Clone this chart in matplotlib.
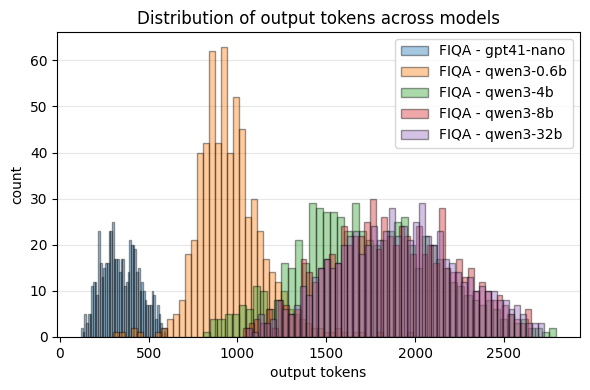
import numpy as np
import matplotlib
matplotlib.use("Agg")
import matplotlib.pyplot as plt

## Histogram counts (50 bins per model) ##
models = ["gpt41-nano", "qwen3-0.6b", "qwen3-4b", "qwen3-8b", "qwen3-32b"]

# token range covered by each model's bins
gpt41_range = (119, 604)
q06_range = (300, 1986)
q4_range = (808, 2795)
q8_range = (1031, 2654)
q32_range = (1048, 2728)

gpt41_counts = [2, 1, 5, 3, 5, 5, 11, 12, 12, 9,
                23, 16, 13, 15, 16, 16, 23, 23, 25, 17,
                17, 17, 14, 17, 17, 11, 12, 14, 21, 20,
                20, 19, 14, 15, 10, 12, 10, 8, 7, 7,
                7, 10, 9, 4, 7, 5, 3, 2, 1, 2]

q06_counts = [1, 1, 0, 2, 1, 0, 0, 1, 2, 4,
              5, 8, 18, 21, 40, 42, 62, 42, 63, 40,
              52, 45, 26, 30, 23, 17, 14, 12, 10, 6,
              5, 4, 3, 2, 2, 1, 1, 2, 1, 0,
              1, 1, 0, 0, 1, 0, 0, 0, 0, 1]

q4_counts = [1, 4, 4, 5, 5, 7, 6, 11, 10, 6,
             8, 16, 15, 21, 16, 29, 28, 27, 27, 26,
             23, 29, 23, 21, 20, 21, 23, 25, 26, 20,
             15, 22, 20, 17, 15, 12, 11, 9, 8, 7,
             8, 6, 4, 5, 3, 4, 2, 2, 1, 2]

q8_counts = [2, 3, 4, 3, 6, 2, 8, 7, 5, 6,
             17, 14, 12, 15, 17, 18, 16, 24, 20, 22,
             22, 25, 30, 19, 26, 22, 20, 24, 22, 18,
             24, 18, 20, 16, 28, 15, 14, 17, 13, 15,
             10, 12, 10, 8, 9, 7, 5, 4, 3, 6]

q32_counts = [2, 1, 5, 3, 4, 8, 6, 5, 7, 11,
              9, 13, 15, 17, 15, 16, 20, 22, 23, 18,
              20, 24, 21, 23, 28, 22, 24, 21, 25, 29,
              22, 20, 23, 17, 16, 14, 12, 13, 10, 11,
              10, 10, 8, 8, 6, 7, 5, 3, 3, 3]

ranges = [gpt41_range, q06_range, q4_range, q8_range, q32_range]
counts = [gpt41_counts, q06_counts, q4_counts, q8_counts, q32_counts]

## Plot! ##
fig, ax = plt.subplots(figsize=(5.9, 3.9), dpi=100)

for name, rng, cnt in zip(models, ranges, counts):
    edges = np.linspace(rng[0], rng[1], len(cnt) + 1)
    centers = (edges[:-1] + edges[1:]) / 2
    ax.hist(centers, bins=edges, weights=cnt, alpha=0.4,
            edgecolor="black", label="FIQA - " + name)

ax.set_title("Distribution of output tokens across models")
ax.set_xlabel("output tokens")
ax.set_ylabel("count")
ax.grid(axis="y", alpha=0.3)
ax.set_axisbelow(True)
ax.legend(loc="upper right")

fig.subplots_adjust(left=0.097, right=0.983, top=0.918, bottom=0.136)
plt.savefig("out.png")
